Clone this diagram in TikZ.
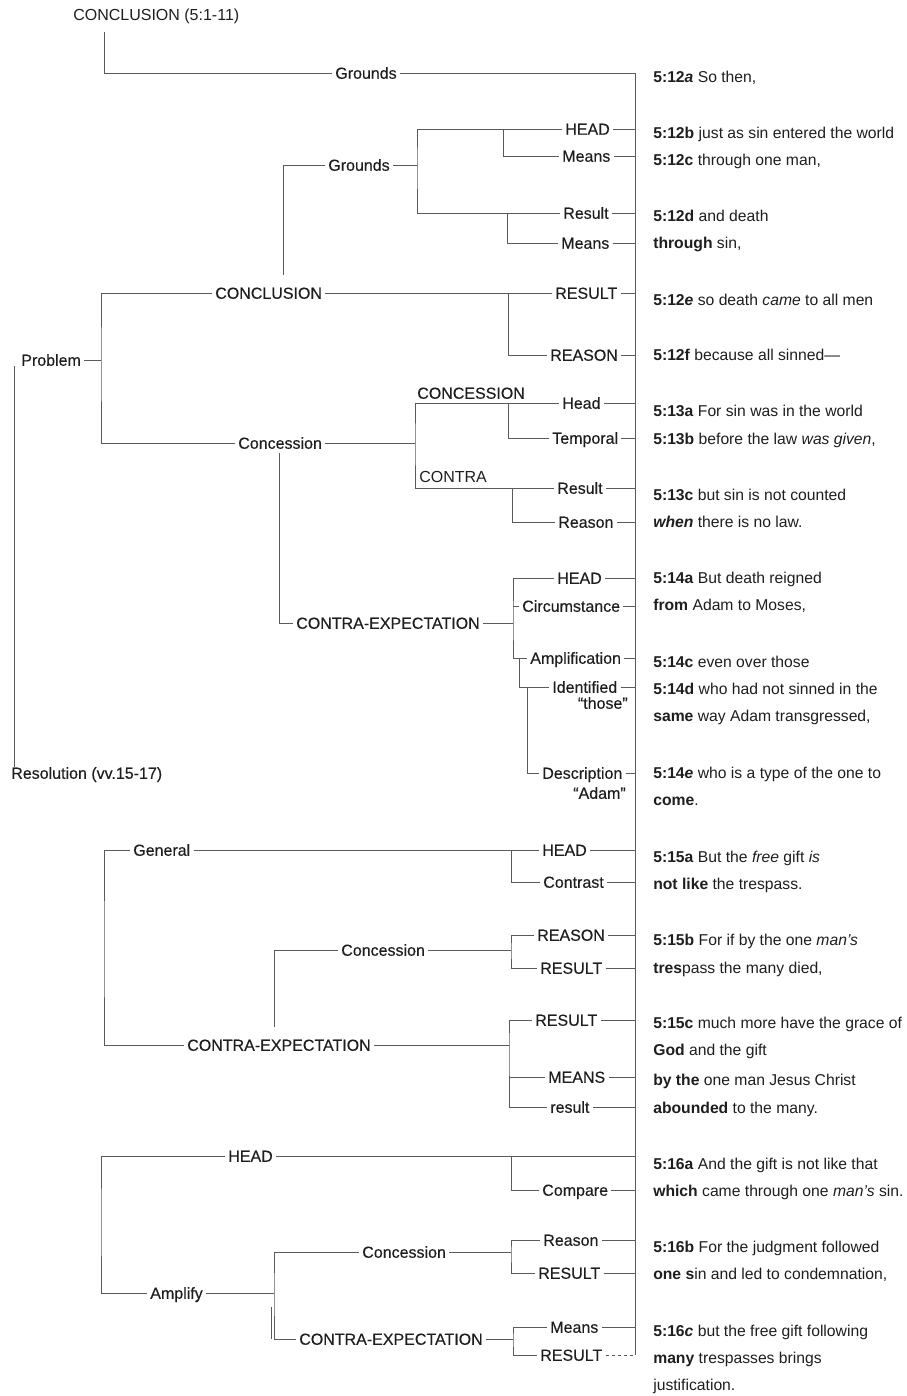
\documentclass[tikz,border=0pt]{standalone}
\usepackage{fontspec}
\setmainfont{Liberation Sans}
\newfontfamily\heavy{Liberation Sans}[FakeBold=0.3]
\usepackage{tikz}
\usetikzlibrary{positioning}
\definecolor{ink}{HTML}{1E1E1E}
\definecolor{rule}{HTML}{5A5A5A}
\def\vref#1{\textbf{#1}}

\begin{document}
\begin{tikzpicture}[x=1pt, y=1pt, color=rule, line width=0.6pt, lbl/.style={anchor=west, inner xsep=3pt, inner ysep=0pt, text height=11.5pt, text depth=0pt, text=ink, font=\heavy\fontsize{16}{19}\selectfont}, thin/.style={lbl, font=\fontsize{16}{19}\selectfont}, vrs/.style={lbl, inner xsep=0pt, font=\fontsize{15.7}{19}\selectfont}, sub/.style={lbl, anchor=east, inner xsep=0pt}]
	\useasboundingbox (0,0) rectangle (906,-1396);
	% labels, upper part
	\draw (70, -15)node[thin](ttl){CONCLUSION (5:1-11)};
	\draw (332, -73)node[lbl](gr1){Grounds};
	\draw (325, -165)node[lbl](gr2){Grounds};
	\draw (562, -129)node[lbl](hd1){HEAD};
	\draw (559, -156)node[lbl](mn1){Means};
	\draw (560, -213)node[lbl](rs1){Result};
	\draw (558, -243)node[lbl](mn2){Means};
	\draw (212, -293)node[lbl](cnc){CONCLUSION};
	\draw (552, -293)node[lbl](res1){RESULT};
	\draw (547, -355)node[lbl](rea){REASON};
	\draw (18, -360)node[lbl](prb){Problem};
	\draw (235, -443)node[lbl](cns){Concession};
	\draw (414, -393)node[lbl](cnh){CONCESSION};
	\draw (559, -403)node[lbl](hd2){Head};
	\draw (549, -438)node[lbl](tmp){Temporal};
	\draw (416, -477)node[thin](cnt){CONTRA};
	\draw (554, -488)node[lbl](rs2){Result};
	\draw (555, -522)node[lbl](rsn){Reason};
	\draw (293, -623)node[lbl](ce1){CONTRA-EXPECTATION};
	\draw (554, -578)node[lbl](hd3){HEAD};
	\draw (519, -606)node[lbl](cir){Circumstance};
	\draw (527, -658)node[lbl](amp){Amplification};
	\draw (549, -687)node[lbl](idf){Identified};
	\draw (628, -703)node[sub](idq){“those”};
	\draw (539, -773)node[lbl](dsc){Description};
	\draw (626, -793)node[sub](dsq){“Adam”};
	\draw (8, -773)node[lbl](rsl){Resolution (vv.15-17)};
	% labels, lower part
	\draw (130, -850)node[lbl](gen){General};
	\draw (539, -850)node[lbl](hd4){HEAD};
	\draw (540, -882)node[lbl](ctr){Contrast};
	\draw (338, -950)node[lbl](cns2){Concession};
	\draw (534, -935)node[lbl](rsa){REASON};
	\draw (537, -968)node[lbl](rsb){RESULT};
	\draw (184, -1045)node[lbl](ce2){CONTRA-EXPECTATION};
	\draw (532, -1020)node[lbl](rsc){RESULT};
	\draw (545, -1077)node[lbl](mns){MEANS};
	\draw (547, -1107)node[lbl](rsd){result};
	\draw (225, -1156)node[lbl](hd5){HEAD};
	\draw (539, -1190)node[lbl](cmp){Compare};
	\draw (147, -1293)node[lbl](amf){Amplify};
	\draw (359, -1252)node[lbl](cns3){Concession};
	\draw (540, -1240)node[lbl](rsn3){Reason};
	\draw (535, -1273)node[lbl](rse){RESULT};
	\draw (296, -1339)node[lbl](ce3){CONTRA-EXPECTATION};
	\draw (547, -1327)node[lbl](mns3){Means};
	\draw (537, -1355)node[lbl](rsf){RESULT};
	% text column
	\draw (653, -77)node[vrs](t1){\vref{5:12\textit{a}} So then,};
	\draw (653, -133)node[vrs](t2){\vref{5:12b} just as sin entered the world};
	\draw (653, -160)node[vrs](t3){\vref{5:12c} through one man,};
	\draw (653, -216)node[vrs](t4){\vref{5:12d} and death};
	\draw (653, -243)node[vrs](t5){\vref{through} sin,};
	\draw (653, -300)node[vrs](t6){\vref{5:12\textit{e}} so death \textit{came} to all men};
	\draw (653, -355)node[vrs](t7){\vref{5:12f} because all sinned—};
	\draw (653, -411)node[vrs](t8){\vref{5:13a} For sin was in the world};
	\draw (653, -439)node[vrs](t9){\vref{5:13b} before the law \textit{was given},};
	\draw (653, -495)node[vrs](t10){\vref{5:13c} but sin is not counted};
	\draw (653, -522)node[vrs](t11){\vref{\textit{when}} there is no law.};
	\draw (653, -578)node[vrs](t12){\vref{5:14a} But death reigned};
	\draw (653, -605)node[vrs](t13){\vref{from} Adam to Moses,};
	\draw (653, -662)node[vrs](t14){\vref{5:14c} even over those};
	\draw (653, -689)node[vrs](t15){\vref{5:14d} who had not sinned in the};
	\draw (653, -716)node[vrs](t16){\vref{same} way Adam transgressed,};
	\draw (653, -773)node[vrs](t17){\vref{5:14\textit{e}} who is a type of the one to};
	\draw (653, -800)node[vrs](t18){\vref{come}.};
	\draw (653, -857)node[vrs](t19){\vref{5:15a} But the \textit{free} gift \textit{is}};
	\draw (653, -884)node[vrs](t20){\vref{not like} the trespass.};
	\draw (653, -940)node[vrs](t21){\vref{5:15b} For if by the one \textit{man's}};
	\draw (653, -968)node[vrs](t22){\vref{tres}pass the many died,};
	\draw (653, -1023)node[vrs](t23){\vref{5:15c} much more have the grace of};
	\draw (653, -1050)node[vrs](t24){\vref{God} and the gift};
	\draw (653, -1080)node[vrs](t25){\vref{by the} one man Jesus Christ};
	\draw (653, -1108)node[vrs](t26){\vref{abounded} to the many.};
	\draw (653, -1164)node[vrs](t27){\vref{5:16a} And the gift is not like that};
	\draw (653, -1191)node[vrs](t28){\vref{which} came through one \textit{man's} sin.};
	\draw (653, -1247)node[vrs](t29){\vref{5:16b} For the judgment followed};
	\draw (653, -1274)node[vrs](t30){\vref{one s}in and led to condemnation,};
	\draw (653, -1331)node[vrs](t31){\vref{5:16\textit{c}} but the free gift following};
	\draw (653, -1358)node[vrs](t32){\vref{many} trespasses brings};
	\draw (653, -1385)node[vrs](t33){justification.};
	% bracket corners
	\coordinate (sp) at (635, 0);
	\coordinate (spb) at (635, -1355);
	\coordinate (t0) at (104, -32);
	\coordinate (k1) at (283, -275);
	\coordinate (k2) at (279, -453);
	\coordinate (k3) at (274, -1027);
	\coordinate (k4) at (271, -1307);
	\coordinate (xa) at (417, -165);
	\coordinate (xb) at (503, 0);
	\coordinate (xc) at (507, 0);
	\coordinate (xd) at (101, -360);
	\coordinate (xe) at (508, 0);
	\coordinate (xf) at (415, -443);
	\coordinate (xg) at (508, 0);
	\coordinate (xh) at (512, 0);
	\coordinate (xj) at (513, -623);
	\coordinate (xk) at (519, 0);
	\coordinate (xl) at (527, 0);
	\coordinate (xm) at (14, 0);
	\coordinate (xn) at (104, -950);
	\coordinate (xo) at (511, 0);
	\coordinate (xq) at (511, -950);
	\coordinate (xr) at (509, -1045);
	\coordinate (xs) at (101, -1220);
	\coordinate (xt) at (511, 0);
	\coordinate (xu) at (274, -1293);
	\coordinate (xv) at (511, -1252);
	\coordinate (xw) at (513, -1339);
	% connectors
	\draw (t0) |- (gr1.west);
	\draw (gr1.east) -| (spb);
	\draw (k1) |- (gr2.west);
	\draw (hd1.west) -| (xa) |- (rs1.west);
	\draw (gr2.east) -- (gr2.east -| xa);
	\draw (hd1.west -| xb) |- (mn1.west);
	\draw (rs1.west -| xc) |- (mn2.west);
	\draw (cnc.west) -| (xd) |- (cns.west);
	\draw (prb.east) -- (prb.east -| xd);
	\draw (cnc.east) -- (res1.west);
	\draw (res1.west -| xe) |- (rea.west);
	\draw (hd2.west) -| (xf) |- (rs2.west);
	\draw (cns.east) -- (cns.east -| xf);
	\draw (hd2.west -| xg) |- (tmp.west);
	\draw (rs2.west -| xh) |- (rsn.west);
	\draw (k2) |- (ce1.west);
	\draw (hd3.west) -| (xj) |- (amp.west);
	\draw (ce1.east) -- (ce1.east -| xj);
	\draw (cir.west -| xj) -- (cir.west);
	\draw (amp.west -| xk) |- (idf.west);
	\draw (idf.west -| xl) |- (dsc.west);
	\draw (prb.south -| xm) -- (rsl.north -| xm);
	\draw (gen.west) -| (xn) |- (ce2.west);
	\draw (gen.east) -- (hd4.west);
	\draw (hd4.west -| xo) |- (ctr.west);
	\draw (k3) |- (cns2.west);
	\draw (rsa.west) -| (xq) |- (rsb.west);
	\draw (cns2.east) -- (cns2.east -| xq);
	\draw (rsc.west) -| (xr) |- (rsd.west);
	\draw (ce2.east) -- (ce2.east -| xr);
	\draw (mns.west -| xr) -- (mns.west);
	\draw (hd5.west) -| (xs) |- (amf.west);
	\draw (hd5.east) -- (hd5.east -| sp);
	\draw (hd5.east -| xt) |- (cmp.west);
	\draw (cns3.west) -| (xu) |- (ce3.west);
	\draw (amf.east) -- (amf.east -| xu);
	\draw (k4) -- (ce3.west -| k4);
	\draw (rsn3.west) -| (xv) |- (rse.west);
	\draw (cns3.east) -- (cns3.east -| xv);
	\draw (mns3.west) -| (xw) |- (rsf.west);
	\draw (ce3.east) -- (ce3.east -| xw);
	% ticks to the spine
	\draw (hd1.east) -- (hd1.east -| sp) (mn1.east) -- (mn1.east -| sp) (rs1.east) -- (rs1.east -| sp) (mn2.east) -- (mn2.east -| sp);
	\draw (res1.east) -- (res1.east -| sp) (rea.east) -- (rea.east -| sp) (hd2.east) -- (hd2.east -| sp) (tmp.east) -- (tmp.east -| sp);
	\draw (rs2.east) -- (rs2.east -| sp) (rsn.east) -- (rsn.east -| sp) (hd3.east) -- (hd3.east -| sp) (cir.east) -- (cir.east -| sp);
	\draw (amp.east) -- (amp.east -| sp) (idf.east) -- (idf.east -| sp) (dsc.east) -- (dsc.east -| sp);
	\draw (hd4.east) -- (hd4.east -| sp) (ctr.east) -- (ctr.east -| sp) (rsa.east) -- (rsa.east -| sp) (rsb.east) -- (rsb.east -| sp);
	\draw (rsc.east) -- (rsc.east -| sp) (mns.east) -- (mns.east -| sp) (rsd.east) -- (rsd.east -| sp) (cmp.east) -- (cmp.east -| sp);
	\draw (rsn3.east) -- (rsn3.east -| sp) (rse.east) -- (rse.east -| sp) (mns3.east) -- (mns3.east -| sp);
	\draw[dashed] (rsf.east) -- (rsf.east -| sp);
	\end{tikzpicture}
\end{document}
